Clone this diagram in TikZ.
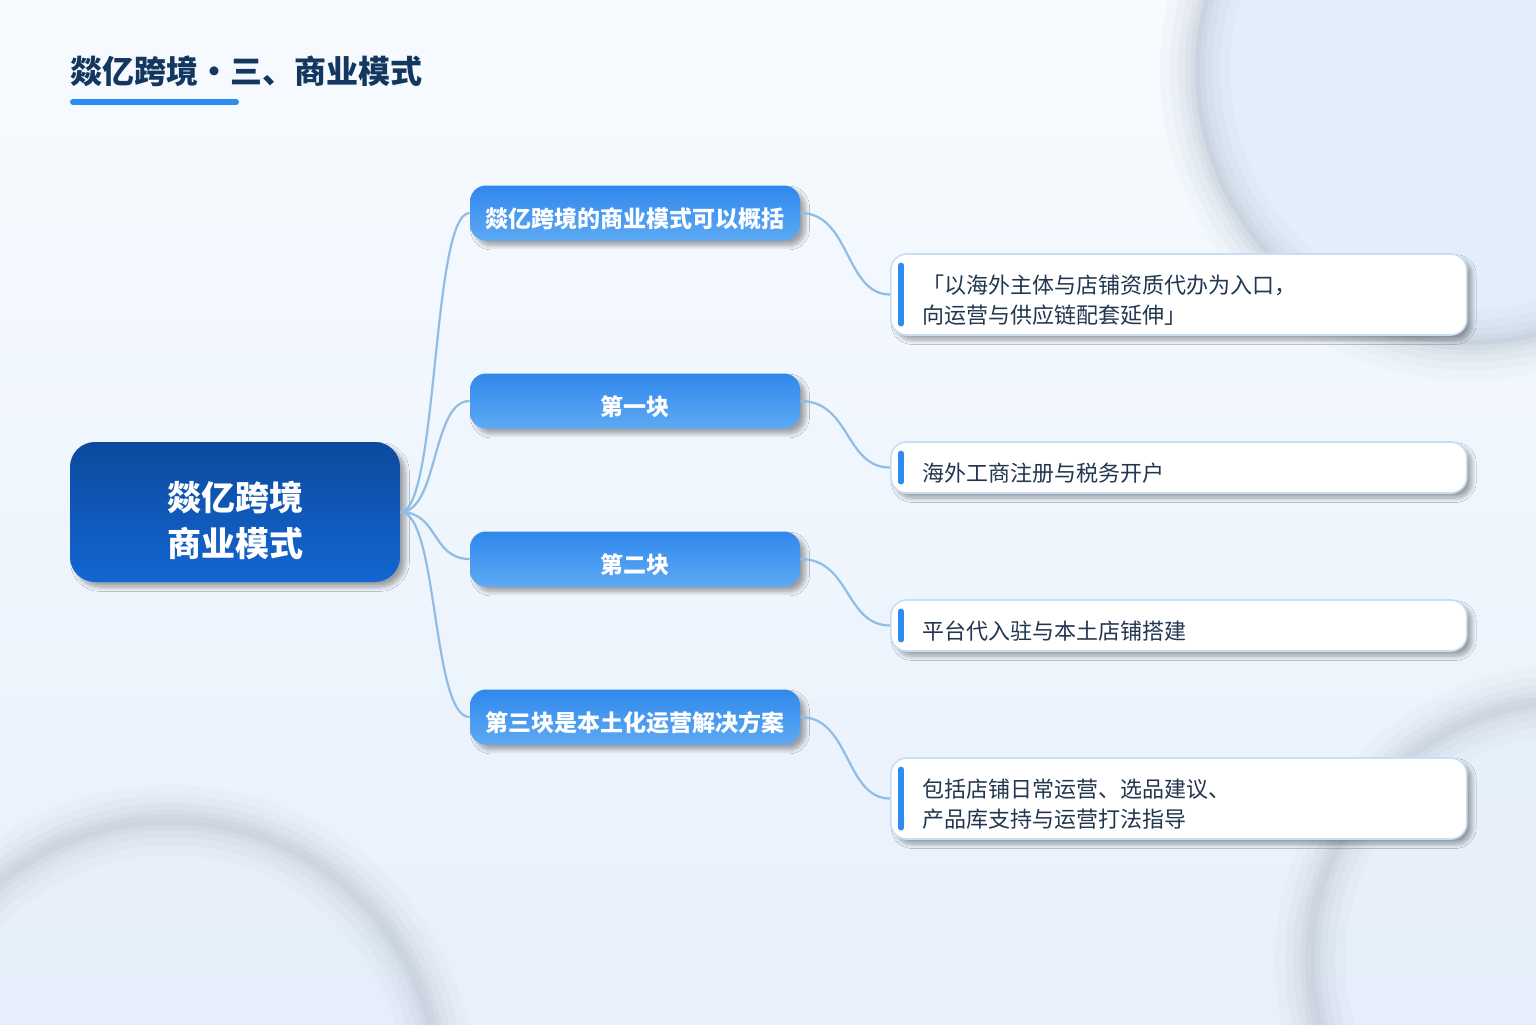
\documentclass[tikz,border=0pt]{standalone}
\usepackage{fontspec}
\setmainfont{Noto Sans CJK SC}
\usetikzlibrary{shadows.blur,calc}
\definecolor{titlec}{HTML}{14375F}
\definecolor{barc}{HTML}{2E8BEF}
\definecolor{roottop}{HTML}{0B4A9E}
\definecolor{rootbot}{HTML}{1466D2}
\definecolor{brtop}{HTML}{3088EC}
\definecolor{brbot}{HTML}{5DAAF4}
\definecolor{leafborder}{HTML}{C7DEF6}
\definecolor{leaftext}{HTML}{22364F}
\definecolor{linec}{HTML}{8FBDE5}
\definecolor{bgtop}{HTML}{F7FBFF}
\definecolor{bgbot}{HTML}{E7F0FB}
\definecolor{ringc}{HTML}{8A93A3}
\definecolor{ringfill}{HTML}{E4EEFA}
\tikzset{
  softshadow/.style={blur shadow={shadow xshift=2.5pt,shadow yshift=-2.5pt,shadow blur steps=10,shadow opacity=35}},
  rootbox/.style={rounded corners=12.5pt,minimum width=165pt,minimum height=70pt,
    top color=roottop,bottom color=rootbot,draw=none,softshadow},
  roottext/.style={text=white,align=center,inner sep=0pt,
    font=\bfseries\fontsize{17}{23}\selectfont},
  branchbox/.style={rounded corners=8pt,minimum width=165pt,minimum height=27.5pt,
    top color=brtop,bottom color=brbot,draw=none,softshadow},
  branchtext/.style={text=white,inner sep=0pt,font=\bfseries\fontsize{11.5}{14}\selectfont},
  leafbox/.style={rounded corners=8pt,fill=white,draw=leafborder,line width=0.8pt,
    minimum width=288pt,inner sep=0pt,softshadow,anchor=west},
  leaftextstyle/.style={text=leaftext,align=left,inner sep=0pt,anchor=west,
    font=\fontsize{11}{15}\selectfont},
  conn/.style={draw=linec,line width=1.1pt},
  accent/.style={draw=barc,line width=2.6pt,line cap=round},
}
\begin{document}
\begin{tikzpicture}[x=0.5pt,y=-0.5pt]
\useasboundingbox (0,0) rectangle (1536,1024);
% background
\shade[top color=bgtop,bottom color=bgbot] (0,0) rectangle (1536,1024);
% decorative rings
\begin{scope}
\clip (0,0) rectangle (1536,1024);
\fill[ringfill] (1470,70) circle (275);
\fill[ringfill,opacity=0.6] (170,1090) circle (270);
\fill[ringfill,opacity=0.6] (1570,960) circle (260);
\foreach \w/\o in {70/0.04,50/0.05,34/0.06,20/0.07,10/0.08}{
  \draw[ringc,opacity=\o,line width=\w*0.5pt] (1470,70) circle (275);
  \draw[ringc,opacity=\o,line width=\w*0.5pt] (170,1090) circle (270);
  \draw[ringc,opacity=\o,line width=\w*0.5pt] (1570,960) circle (260);
}
\end{scope}
% title
\node[anchor=west,inner sep=0pt,text=titlec,font=\bfseries\fontsize{16}{20}\selectfont] (title) at (70,71) {燚亿跨境・三、商业模式};
\coordinate (barA) at (73,102);
\coordinate (barB) at (236,102);
\draw[draw=barc,line width=3pt,line cap=round] (barA) -- (barB);
% root
\node[rootbox] (root) at (235,512) {};
\node[roottext] (rootT) at (235,520) {燚亿跨境\\商业模式};
% branches
\node[branchbox] (b1) at (635,213) {};
\node[branchbox] (b2) at (635,401) {};
\node[branchbox] (b3) at (635,559) {};
\node[branchbox] (b4) at (635,717) {};
\node[branchtext] (b1T) at (635,219) {燚亿跨境的商业模式可以概括};
\node[branchtext] (b2T) at (635,407) {第一块};
\node[branchtext] (b3T) at (635,565) {第二块};
\node[branchtext] (b4T) at (635,723) {第三块是本土化运营解决方案};
% leaves
\node[leafbox,minimum height=40.5pt] (l1) at (890,294.5) {};
\node[leafbox,minimum height=25.5pt] (l2) at (890,467.5) {};
\node[leafbox,minimum height=25.5pt] (l3) at (890,625.5) {};
\node[leafbox,minimum height=40.5pt] (l4) at (890,798.5) {};
\node[leaftextstyle] (l1T) at (922,300) {「以海外主体与店铺资质代办为入口，\\向运营与供应链配套延伸」};
\node[leaftextstyle] (l2T) at (922,473) {海外工商注册与税务开户};
\node[leaftextstyle] (l3T) at (922,631) {平台代入驻与本土店铺搭建};
\node[leaftextstyle] (l4T) at (922,804) {包括店铺日常运营、选品建议、\\产品库支持与运营打法指导};
% accent bars
\foreach \n in {l1,l2,l3,l4}{
  \draw[accent] ($(\n.north west)+(11,12)$) -- ($(\n.south west)+(11,-12)$);
}
% connectors root -> branches
\foreach \b in {b1,b2,b3,b4}{
  \draw[conn] (root.east) .. controls +(38,0) and +(-38,0) .. (\b.west);
}
% connectors branches -> leaves
\draw[conn] (b1.east) .. controls +(50,0) and +(-45,0) .. (l1.west);
\draw[conn] (b2.east) .. controls +(50,0) and +(-45,0) .. (l2.west);
\draw[conn] (b3.east) .. controls +(50,0) and +(-45,0) .. (l3.west);
\draw[conn] (b4.east) .. controls +(50,0) and +(-45,0) .. (l4.west);
\end{tikzpicture}
\end{document}
